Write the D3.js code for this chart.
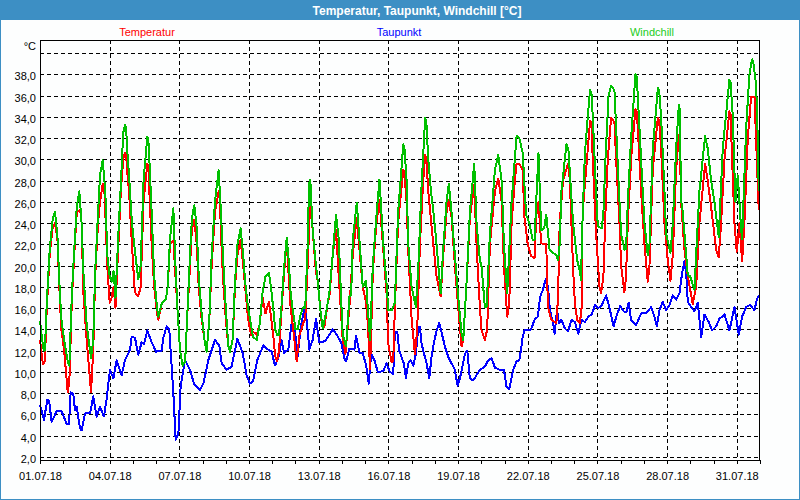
<!DOCTYPE html>
<html>
<head>
<meta charset="utf-8">
<script src="https://cdn.jsdelivr.net/npm/d3@7"></script>
<style>
  body { margin: 0; background: #fff; }
  svg { display: block; font-family: "Liberation Sans", Arial, sans-serif; }
</style>
</head>
<body>
<svg width="800" height="500"></svg>
<script>
// hours since 01.07.18 00:00, value in °C
const tempData = [
  [0,13],[3,10.7],[5,11],[7,16],[10,21],[13,23.5],[15.5,24],[18,22.5],[20,18],[22,14],[25,12],[28.6,8.1],[30.3,9],
  [33,17],[36,22],[38,25],[40.6,25.2],[42,25],[43,24],[44.8,17.5],[48.2,13],[52.7,8.1],[55,12],[57,19],[60,24],[62,26],
  [64.8,27.7],[66.3,27.5],[67.5,25],[69.5,20],[72,16.5],[74,17],[76,18],[78,16],[81,22],[83.5,27],[86,30],[87.8,30.6],
  [89,30.4],[90,29],[92,27],[95,22],[98,17.5],[101.5,17.1],[104,18],[107,26],[110.9,29.6],[112,29.4],[113,27],[115.4,22],
  [118,18],[121,15.5],[122.3,14.9],[126,16.5],[130,16.8],[132,18],[134.3,22],[137.8,22.4],[140,19],[142,16],[144.7,12],
  [147.4,10.6],[150,11],[152,15],[155,20],[157,23.5],[159.5,24.3],[162,22],[164,18],[167,15],[170,13],[172.2,11.9],
  [175,15],[177.4,20],[180.8,25],[184.6,27],[185.8,26.6],[187,23],[189,19],[192,15],[194.5,12.5],[196.3,11.9],[199,13],
  [201.5,18],[204,21],[207.3,22.4],[210,20],[212,18],[215,15],[218,13.5],[220,13.8],[224,13.5],[227,14.5],[230,17],
  [233,15.5],[236.6,16.6],[239,15],[241,13.5],[243,11.5],[245,11],[247,12],[249,15],[252,19],[254.9,22.3],
  [257,19],[259,16],[261.7,14],[264,12],[265.2,11],[268,13.4],[272.1,14.6],[274.1,15],[276.6,20],[279.3,26.2],
  [281.7,23.4],[285.2,19.3],[286.9,18.6],[291.4,14.3],[293.8,14.2],[297.3,16.5],[299,17],[302.5,21],[305.9,23.4],
  [308.7,19],[311.1,15.5],[312.8,13],[315.6,11.7],[319.7,16.1],[323.2,21],[327.3,24.5],[330.1,21.5],[333.5,18],
  [337,16.5],[338.7,14.6],[341.1,10.3],[343.9,19.3],[347.3,23.7],[350.8,26.2],[354.7,21.5],[358.1,17.4],
  [359.8,12.7],[363.3,10.9],[365,11],[366.7,16],[370,24],[375.4,29],[376.5,28.8],[378.8,26],[380.5,21.5],[384,15],
  [387.4,11.7],[389.8,14],[392.6,22],[396,28],[398,30.4],[399.2,30.1],[401.2,27],[406.4,22],[409.8,19],[414,17.1],
  [416.7,21],[420.1,25],[422.5,26.2],[425.3,24.5],[428.7,20],[432.2,16],[435.6,12.4],[437.4,13],[440.8,18.5],
  [444.2,24.5],[448.7,27.6],[451.1,22],[454.6,16],[456.3,13.9],[459.7,13],[462.1,14],[464.9,22],[470.1,27],
  [473.5,28.2],[477,26],[479.4,20],[482.8,15.2],[484.9,16.5],[487.3,24],[490.7,28],[492.5,29.6],[495.3,29.6],
  [498.8,29],[500.5,24.6],[504,22],[507.5,20.9],[511,20.7],[512.7,24.6],[515.1,26],[517.9,22.1],[523.1,22],
  [524.9,16.1],[528.3,14.9],[533.6,14.6],[535.3,17],[537,24],[540.5,28],[545.7,29.6],[547.5,28],[550.9,19.6],
  [552.7,16.5],[555.1,14.9],[557.9,14.6],[559.6,16],[560.7,25],[564.3,29],[568.4,33.6],[569.8,33.4],[571.2,30],
  [574.6,23],[576.4,20.5],[578.1,18],[579.8,17.4],[582.2,19],[584.3,25],[586.7,30],[590.1,33.9],[593.6,33.5],
  [595.3,30],[598.8,24],[600.5,20],[603.9,17.5],[605.6,19],[607.4,24],[610.8,30],[615.3,34.7],[616.5,34.5],
  [617.7,33],[621.1,27],[624.6,22],[628,18.5],[629.8,20],[633.2,29],[638.4,33.9],[639.8,33.6],[641.8,31],
  [645.3,24],[648.7,20.5],[651.5,18.6],[653.9,21],[657.3,29],[660.1,32.3],[661,32],[662.5,26],[665.9,21.5],
  [669.4,19],[674.5,16.4],[678,18],[681.4,24],[687.3,29.6],[690,28],[693.5,25.5],[698.7,21.5],[701.4,20.8],
  [703.8,24],[707.3,30],[712.4,34.5],[713.6,34.2],[715.2,30],[717.6,24],[720,21.3],[722.8,24],[725.5,20.4],
  [727.9,24],[731.4,32],[734.8,35.9],[738.3,35.9],[740.7,30],[742.7,25.2]
];

const dewData = [
  [0,6.9],[4.1,5.5],[7.6,7.4],[9.6,7.2],[12,5.3],[17.2,6.3],[22.4,6.3],[27.6,5.1],[30,5.1],[31.7,8.1],[34.4,7.9],
  [36.2,6.4],[37.9,6.7],[41.3,4.7],[43,4.5],[46.5,6.1],[51.7,6.1],[55.1,7.7],[58.5,5.8],[62,6.7],[66.1,5.8],
  [68.9,7.5],[72.3,10.2],[75.8,9.4],[79.2,11.1],[84.4,9.7],[87.8,11.1],[93,12.1],[94.7,13.3],[98.2,13.2],
  [101.6,11.6],[105,12.8],[107.5,12.6],[110.9,13.9],[115.4,12.8],[119.9,11.9],[125.7,12],[127.4,13.2],
  [130.9,14.3],[133.6,14],[137.8,8],[140.2,3.6],[143,4.2],[145.3,8.6],[149.8,11.1],[155,10.2],[159.1,8.9],
  [165.3,8.3],[168.8,8.9],[173.9,11.1],[180.8,13],[185.3,12.5],[187.7,10.8],[192.9,10.2],[198,10.5],
  [203.9,13.1],[209.4,11.8],[213.5,9.7],[217,8.9],[220.4,9.2],[224.5,11.1],[230.8,12.5],[234.2,12.2],
  [239.4,11.9],[242.8,10.6],[246.3,11.3],[249.7,13],[252.1,11.8],[256.6,12.1],[260,14.6],[263.5,14],[266,11.3],
  [269.6,14.3],[272.1,15.5],[274.1,16.1],[276.6,13.9],[278.3,12.1],[281.7,13],[285.2,15],[288.6,12.8],
  [292.1,12.8],[295.5,13],[302.5,14],[305.9,13.6],[311.1,12.8],[314.5,11.3],[316.3,11],[319.7,12.2],
  [324.9,12.1],[326.6,13.4],[330.1,11.8],[333.5,11.8],[337,10.6],[339.7,8.9],[342.2,11.7],[345.6,11.1],
  [349.1,10],[351.3,10],[354.7,10.1],[358.1,10.8],[361.6,10],[365,9.8],[366.7,13.8],[369.2,13.8],[371.2,12],
  [373.6,11.4],[376,10.8],[378.1,9.4],[380.5,10.8],[383,11.1],[385.7,10.6],[388.4,11.7],[390.9,14.2],
  [392.6,14.2],[394.3,12.7],[396,12],[399.5,10.8],[402.2,9.4],[404.6,11.4],[407,12.7],[409.8,13.9],[412.6,14.6],
  [415,13.7],[418.4,12.4],[421.9,11.4],[425.3,10.8],[428.7,10.2],[431.5,8.7],[433.9,9.4],[435.6,10.1],
  [439.1,11.7],[441.5,12],[444.2,9.4],[447.7,9.2],[451.1,9.7],[454.6,10.2],[459.7,10.5],[463.2,11.1],
  [466.6,11.3],[470.1,10.4],[475.2,10.2],[479.4,10.2],[482.1,8.6],[484.9,8.4],[489,10.2],[492.5,11],
  [495.3,11.1],[497,12.1],[498.8,13.3],[500.5,13.9],[504,13.9],[507.5,14],[511,14.9],[514.4,15.2],[516.9,17.1],
  [519.6,17.7],[522.4,18.7],[524.9,18],[526.6,16.2],[528.3,15.2],[530.1,14.6],[531.8,13.6],[534.3,15.8],
  [536.3,14.6],[538.8,14.9],[542.3,14.1],[545.7,13.8],[549.2,14.9],[552.7,14.7],[556.2,13.6],[559.6,14.9],
  [563.1,14.7],[566.6,15.2],[570.1,15.4],[573.6,16.3],[577,16],[580.5,16.3],[585,17.2],[588.5,16],[592.7,14.3],
  [596.2,15.4],[599.6,16.2],[603.1,15.7],[605.9,15.6],[608.3,16.5],[610.8,14.9],[616,14.4],[621.1,15.5],
  [626.3,15.5],[631.5,16.1],[634.9,15.2],[637.3,14.3],[640.1,15.8],[643.5,16.6],[647,15.8],[650.4,16.3],
  [653.9,17.2],[657.3,16.8],[660.8,17.4],[663.5,19.3],[665.9,20.4],[667.7,19.3],[669.4,16.6],[672.8,16.1],
  [676.3,15.7],[679.7,16.5],[683.2,13.3],[686.6,15.4],[691.1,14.7],[694.5,13.9],[698.7,14.3],[702.1,15],
  [707.3,15.4],[712.4,13.9],[717.6,16.1],[722.1,13.5],[725.5,15.2],[729.7,16.1],[733.8,16.3],[738.3,15.8],
  [740.7,16.8],[742.7,17.2]
];

const chillData = [
  [0,14.8],[3.4,12.2],[5,12],[7,16.5],[10,21.5],[13,24.3],[15.5,25.1],[18,22.8],[20,18.5],[22,15],[25,13],
  [28.6,11],[30.3,10.6],[33,17.5],[36,22.5],[38,25.5],[40.6,27],[43,24],[44.8,19.5],[48.2,14.5],[52.7,11.3],
  [55,13],[57,19.5],[60,25],[62,28.5],[64.8,29.9],[67.5,27],[69.5,21],[72,19],[74,18.5],[76,19.5],[78,17],
  [81,23],[83.5,27.5],[86,32.5],[87.8,33.2],[89,33],[90,31],[92,28.5],[95,24],[98,21.5],[101.5,18.7],[104,20],[107,28],
  [110.9,32.1],[112,31.8],[113,30],[115.4,25],[118,19],[121,16],[122.3,15.2],[126,16.5],[130,16.8],[132,18],[134.3,22.5],
  [137.8,25.4],[140,20],[142,16],[144.7,12],[147.4,10.6],[150,11],[152,15],[155,21],[157,24.5],[159.5,25.7],
  [162,23.5],[164,19],[167,15.5],[170,13],[172.2,11.9],[175,15],[177.4,21],[180.8,26],[184.6,29],[187,25],
  [189,21],[192,16],[194.5,12.5],[196.3,11.9],[199,13],[201.5,18.5],[204,22],[207.3,23.5],[210,21],[212,18.5],
  [215,16],[218,14.5],[220,13.3],[224,13],[227,14.5],[230,17.5],[233,19],[236.6,19.3],[239,17.7],[241,16],
  [243,14],[245,13.5],[247,13.5],[249,15.5],[252,19.5],[254.9,22.6],[257,20.5],[259,17.4],[261.7,15.5],[264,14],
  [266.2,14],[269.6,15.5],[272.1,16.1],[274.1,16],[276.6,22],[278,27.7],[279.3,28.1],[281.7,23.4],[285.2,20],
  [286.9,18.6],[289.5,16],[292.1,14.1],[295.5,15.5],[297.3,16.5],[299,17.4],[302.5,21],[305.9,24.8],
  [308.7,22.5],[311.1,17],[312.8,13.5],[316.3,12.4],[319.7,17.1],[321.5,17.2],[323.2,22.4],[327.3,25.9],
  [330.1,22.4],[333.5,18],[337,18.6],[338.7,16],[341.1,13],[343.9,20],[347.3,24.3],[350.8,28.1],[354.7,22.1],
  [358.1,18.3],[360,15.8],[363.3,15.8],[366.7,16.5],[370,25],[375.4,31.4],[376.5,31.2],[378.8,28],[380.5,22.1],
  [384,18],[388.4,16.1],[391,20],[394,27],[398,33.9],[399.2,33.6],[401.2,30],[404,27],[406.4,25.2],[409.8,22],
  [414,17.4],[416.7,21.6],[420.1,26],[422.5,27.7],[425.3,25],[428.7,21],[432.2,17],[435.6,13.6],[437.4,13],
  [440.8,18.5],[444.2,25],[448.7,29.6],[451.1,24],[454.6,20.5],[456.3,19.9],[459.7,16.1],[461.5,16.1],[464.9,23],
  [470.1,29],[473.5,30.4],[477,28],[479.4,22],[482.8,17.4],[487.3,26],[492.5,32.2],[495.3,32],[498.8,30.6],
  [502.3,24.8],[505.7,24],[509.2,22.4],[511,22.4],[512.7,25.9],[515.1,30.6],[517.9,23.3],[521,23.5],[523.1,24.8],
  [526.6,21.5],[530.1,21.2],[533.6,21],[535.3,20.5],[537,22],[538.8,27],[544,31.4],[546,31],[548,28],
  [550.9,24],[555.1,20.5],[557.9,19.5],[559,18.6],[560.7,24.6],[563.1,30.6],[566,34],[568.4,36.5],[569.8,36.3],
  [571.2,34],[574.6,27],[576.4,23.7],[580.5,23.5],[582.2,25],[584.3,30],[587.5,36],[590.1,36.9],[593.6,36.5],
  [595.3,33],[598.8,26],[600.5,23],[603.9,21.5],[605.6,21.6],[607.4,26],[610.8,32],[615.3,38],[616.5,37.8],
  [617.7,36],[621.1,30],[624.6,24],[628,21],[629.8,22],[633.2,31],[638.4,36.7],[639.8,36.5],[641.8,34],
  [645.3,27],[647,23],[651.5,21.2],[653.9,24],[657.3,31],[660.1,35.1],[661,34.8],[662.5,26.2],[664.2,25],
  [669.4,19.1],[671.8,19],[676.3,17.7],[678,21],[681.4,27],[687.3,32.2],[690,31],[693.5,28],[696.9,26],
  [701.4,22.7],[705.5,31],[712.4,37.5],[713.6,37.2],[715.9,34],[718.6,26],[721,28.5],[724.5,23.4],[725.5,22.5],
  [729.7,33],[733.1,38],[735.8,39.4],[737,39.2],[740,37],[741.7,32],[742.7,27]
];

const seriesNames = ["Temperatur", "Taupunkt", "Windchill"];
const seriesColors = ["#ff0000", "#0000ff", "#00c000"];
const legendColors = ["#ff0000", "#0000ff", "#22cc22"];
const legendX = [147, 399, 652];
const yTicks = d3.range(2, 40, 2);
const titleText = "Temperatur, Taupunkt, Windchill [°C]";

const svg = d3.select("svg");
const W = +svg.attr("width");
const H = +svg.attr("height");
const L = 40, R = 760, T = 40, B = 460;
const start = Date.UTC(2018, 6, 1);
const end = Date.UTC(2018, 7, 1);
const toDate = h => new Date(start + h * 3600e3);

// window frame and title bar
svg.append("rect").attr("width", W).attr("height", H).attr("fill", "#3d8fc4");
svg.append("rect").attr("x", 1).attr("y", 20).attr("width", W - 2).attr("height", H - 21)
  .attr("fill", "#fdfefe");
svg.append("text").attr("x", 417).attr("y", 15).attr("text-anchor", "middle")
  .attr("fill", "#fff").attr("font-weight", "bold").attr("font-size", 12).text(titleText);

const x = d3.scaleUtc().domain([new Date(start), new Date(end)]).range([L, R]);
const y = d3.scaleLinear().domain([1.718, 41.223]).range([B, T]);

// grid
const grid = svg.append("g").attr("stroke", "#000").attr("stroke-dasharray", "4,3")
  .attr("shape-rendering", "crispEdges");
grid.selectAll(".h").data(d3.range(2, 41, 2)).join("line")
  .attr("x1", L).attr("x2", R)
  .attr("y1", d => Math.round(y(d)) + 0.5).attr("y2", d => Math.round(y(d)) + 0.5);
const gridDays = d3.utcDay.range(new Date(start), new Date(end))
  .filter(d => (d.getUTCDate() - 1) % 3 === 0 && d.getUTCDate() > 1);
grid.selectAll(".v").data(gridDays).join("line")
  .attr("y1", T).attr("y2", B)
  .attr("x1", d => Math.round(x(d)) + 0.5).attr("x2", d => Math.round(x(d)) + 0.5);

// series: dew point first, windchill on top
const line = d3.line().x(d => x(toDate(d[0]))).y(d => y(d[1]));
[[dewData, 1], [tempData, 0], [chillData, 2]].forEach(([data, i]) => {
  svg.append("path").attr("d", line(data)).attr("fill", "none")
    .attr("stroke", seriesColors[i]).attr("stroke-width", 2)
    .attr("stroke-linejoin", "round").attr("shape-rendering", "crispEdges");
});

// plot border
svg.append("rect").attr("x", L + 0.5).attr("y", T + 0.5).attr("width", R - L - 1).attr("height", B - T)
  .attr("fill", "none").attr("stroke", "#000").attr("shape-rendering", "crispEdges");

// axes
const fmt = d3.utcFormat("%d.%m.%y");
const xAxis = d3.axisBottom(x)
  .tickValues(d3.utcDay.range(new Date(start), new Date(end + 3600e3)))
  .tickSize(4).tickPadding(8)
  .tickFormat(d => ((d.getUTCDate() - 1) % 3 === 0 && d.getUTCMonth() === 6) ? fmt(d) : "");
const gx = svg.append("g").attr("transform", `translate(0,${B})`).call(xAxis);
gx.select(".domain").remove();
gx.selectAll("line").attr("shape-rendering", "crispEdges");
gx.selectAll("text").attr("font-size", 11).attr("font-family", "Liberation Sans, Arial, sans-serif")
  .attr("fill", "#000");

const yAxis = d3.axisLeft(y).tickValues(yTicks).tickSize(0).tickPadding(4)
  .tickFormat(d => d3.format(".1f")(d).replace(".", ","));
const gy = svg.append("g").attr("transform", `translate(${L},0)`).call(yAxis);
gy.select(".domain").remove();
gy.selectAll("text").attr("font-size", 11).attr("dy", "0.5em")
  .attr("font-family", "Liberation Sans, Arial, sans-serif").attr("fill", "#000");

svg.append("text").attr("x", 36).attr("y", 50).attr("text-anchor", "end")
  .attr("font-size", 11).text("°C");

// legend labels
svg.selectAll(".lg").data(seriesNames).join("text")
  .attr("x", (d, i) => legendX[i]).attr("y", 36).attr("text-anchor", "middle")
  .attr("font-size", 11).attr("fill", (d, i) => legendColors[i])
  .text(d => d);
</script>
</body>
</html>
